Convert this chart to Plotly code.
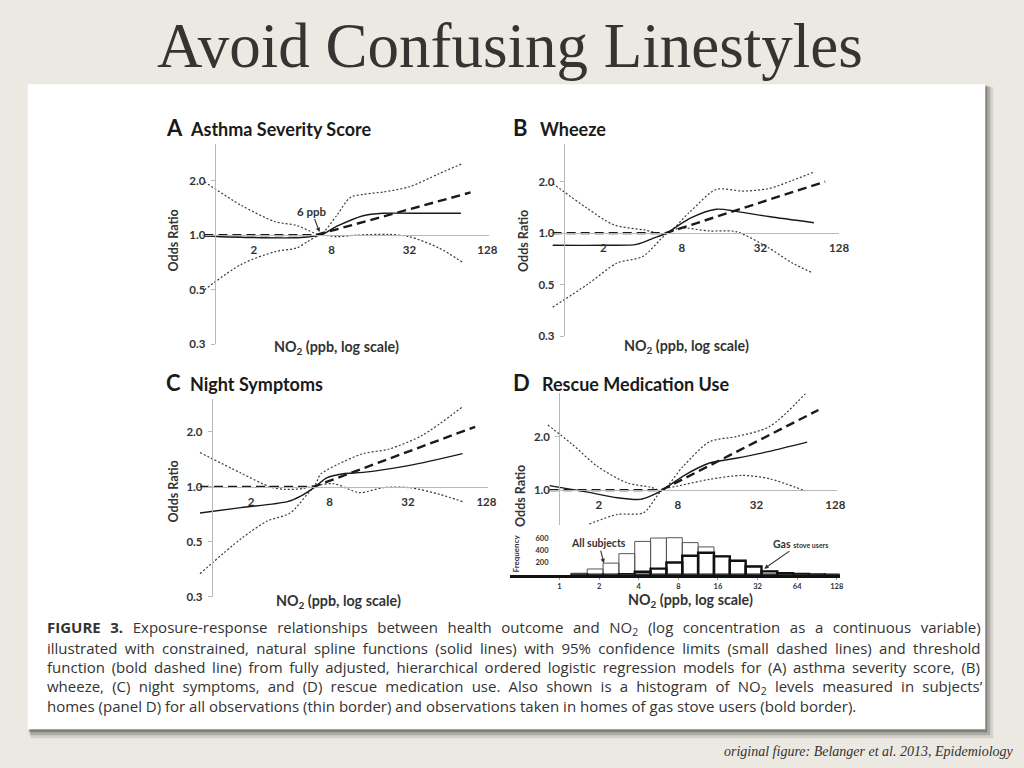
import math
import plotly.graph_objects as go

W, H = 1024, 768

# ---------------- data ----------------
x_tick_vals = [2, 8, 32, 128]
x_tick_text = ["2", "8", "32", "128"]
or_tick_vals = [0.25, 0.5, 1.0, 2.0]
or_tick_text = ["0.3", "0.5", "1.0", "2.0"]
or_tick_vals_D = [1.0, 2.0]
or_tick_text_D = ["1.0", "2.0"]

# Panel A: Asthma Severity Score
A_solid_x = [0.83, 2.0, 4.6, 6.5, 8.8, 14, 20, 40, 80]
A_solid_y = [0.99, 0.97, 0.97, 1.0, 1.12, 1.28, 1.32, 1.32, 1.32]
A_thr_x = [0.83, 6.0, 95]
A_thr_y = [1.0, 1.0, 1.72]
A_up_x = [0.83, 1.6, 2.9, 4.3, 5.8, 6.5, 8.8, 11.1, 14, 20, 32, 54, 82]
A_up_y = [1.97, 1.46, 1.19, 1.13, 1.03, 1.0, 1.29, 1.61, 1.68, 1.73, 1.85, 2.18, 2.48]
A_lo_x = [0.83, 1.6, 2.9, 4.3, 5.2, 6.5, 8.8, 12.5, 22, 32, 54, 82]
A_lo_y = [0.50, 0.69, 0.81, 0.85, 0.92, 1.0, 0.98, 1.0, 1.01, 0.98, 0.85, 0.71]

# Panel B: Wheeze
B_solid_x = [0.82, 2.0, 3.6, 4.85, 6.1, 9.2, 14.7, 20.8, 37, 82]
B_solid_y = [0.85, 0.85, 0.86, 0.935, 1.0, 1.22, 1.38, 1.34, 1.25, 1.15]
B_thr_x = [0.82, 6.0, 100]
B_thr_y = [1.0, 1.0, 2.0]
B_up_x = [0.82, 1.5, 2.4, 4.1, 6.1, 9.2, 14.7, 23.4, 37, 56, 82]
B_up_y = [1.95, 1.40, 1.12, 1.045, 1.0, 1.33, 1.80, 1.76, 1.82, 2.03, 2.27]
B_lo_x = [0.82, 1.5, 2.56, 4.0, 6.1, 7.7, 13, 20.8, 37, 56, 79]
B_lo_y = [0.37, 0.50, 0.67, 0.73, 0.99, 1.07, 1.03, 1.02, 0.82, 0.67, 0.59]

# Panel C: Night Symptoms
C_solid_x = [0.81, 1.67, 3.8, 4.8, 6.2, 7.6, 10.2, 14.5, 33, 84]
C_solid_y = [0.72, 0.77, 0.83, 0.89, 1.0, 1.12, 1.18, 1.20, 1.31, 1.52]
C_thr_x = [0.81, 6.0, 105]
C_thr_y = [1.0, 1.0, 2.13]
C_up_x = [0.81, 1.67, 2.8, 3.6, 5.0, 6.2, 6.8, 9.1, 14.5, 23, 41.5, 84]
C_up_y = [1.54, 1.19, 1.0, 0.97, 0.98, 1.03, 1.17, 1.32, 1.52, 1.61, 1.92, 2.74]
C_lo_x = [0.81, 1.67, 2.66, 4.0, 6.2, 8.6, 13.6, 20.6, 33, 56, 84]
C_lo_y = [0.335, 0.52, 0.65, 0.72, 1.0, 1.04, 0.93, 0.99, 0.99, 0.91, 0.83]

# Panel D: Rescue Medication Use
D_solid_x = [0.84, 1.64, 2.76, 4.15, 4.94, 6.1, 8.8, 14, 22.3, 40, 78]
D_solid_y = [1.06, 0.975, 0.906, 0.887, 0.925, 1.0, 1.2, 1.42, 1.51, 1.65, 1.86]
D_thr_x = [0.84, 6.0, 95]
D_thr_y = [1.0, 1.0, 2.82]
D_up_x = [0.815, 1.23, 1.95, 3.28, 4.94, 6.1, 8.8, 14, 22.3, 40, 75.5]
D_up_y = [2.32, 1.83, 1.36, 1.10, 1.04, 1.0, 1.36, 1.87, 2.0, 2.27, 3.48]
D_lo_x = [1.69, 2.76, 4.39, 6.1, 8.3, 14, 25, 40, 75.5]
D_lo_y = [0.645, 0.73, 0.747, 1.0, 1.06, 1.15, 1.21, 1.16, 0.99]

# Histogram of NO2 (bins on log2 scale, left edges, width 0.4)
hist_left_log2 = [0.3, 0.7, 1.1, 1.5, 1.9, 2.3, 2.7, 3.1, 3.5, 3.9, 4.3, 4.7, 5.1, 5.5, 5.9, 6.3, 6.7]
hist_all = [25, 95, 190, 345, 545, 600, 605, 525, 455, 305, 235, 140, 60, 25, 12, 5, 3]
hist_gas = [2, 2, 3, 8, 50, 100, 200, 310, 360, 300, 230, 135, 55, 25, 12, 5, 3]
hist_x_tick_vals = [0, 1, 2, 3, 4, 5, 6, 7]
hist_x_tick_text = ["1", "2", "4", "8", "16", "32", "64", "128"]
hist_y_tick_vals = [200, 400, 600]

caption_lines = [
    "<b>FIGURE 3.</b> Exposure-response relationships between health outcome and NO<sub>2</sub> (log concentration as a continuous variable)",
    "illustrated with constrained, natural spline functions (solid lines) with 95% confidence limits (small dashed lines) and threshold",
    "function (bold dashed line) from fully adjusted, hierarchical ordered logistic regression models for (A) asthma severity score, (B)",
    "wheeze, (C) night symptoms, and (D) rescue medication use. Also shown is a histogram of NO<sub>2</sub> levels measured in subjects\u2019",
    "homes (panel D) for all observations (thin border) and observations taken in homes of gas stove users (bold border).",
]
caption_word_spacing = [5.7, 3.45, 2.8, 4.3, 0]

# ---------------- geometry helpers ----------------
def fx(px):
    return px / W

def fy(py):
    return 1 - py / H

FIG_FONT = "Lato"
AX_COL = "#b8b8b8"
TXT_COL = "#2b2b2b"
BG = "#ece9e2"

panels = [
    dict(name="A", title="Asthma Severity Score", x1=217, dx=39.3, y1=237, dy=55, xmin=0.8, xmax=131, ymin=0.25, ymax=3.2,
         data=(A_solid_x, A_solid_y, A_thr_x, A_thr_y, A_up_x, A_up_y, A_lo_x, A_lo_y),
         yt=(or_tick_vals, or_tick_text), letter_xy=(166, 129), title_x=190,
         ylab_xy=(175, 242), xlab_xy=(340, 350)),
    dict(name="B", title="Wheeze", x1=569.5, dx=39.7, y1=235, dy=52, xmin=0.8, xmax=128, ymin=0.25, ymax=3.3,
         data=(B_solid_x, B_solid_y, B_thr_x, B_thr_y, B_up_x, B_up_y, B_lo_x, B_lo_y),
         yt=(or_tick_vals, or_tick_text), letter_xy=(516, 129), title_x=543,
         ylab_xy=(528, 243), xlab_xy=(693, 349)),
    dict(name="C", title="Night Symptoms", x1=214, dx=39.6, y1=490.7, dy=55.5, xmin=0.78, xmax=132, ymin=0.25, ymax=3.04,
         data=(C_solid_x, C_solid_y, C_thr_x, C_thr_y, C_up_x, C_up_y, C_lo_x, C_lo_y),
         yt=(or_tick_vals, or_tick_text), letter_xy=(166, 386), title_x=190,
         ylab_xy=(175, 495), xlab_xy=(342, 606)),
    dict(name="D", title="Rescue Medication Use", x1=565, dx=39.8, y1=494, dy=54, xmin=0.8, xmax=131, ymin=0.64, ymax=3.5,
         data=(D_solid_x, D_solid_y, D_thr_x, D_thr_y, D_up_x, D_up_y, D_lo_x, D_lo_y),
         yt=(or_tick_vals_D, or_tick_text_D), letter_xy=(516, 386), title_x=545,
         ylab_xy=(525, 500), xlab_xy=(697, 605)),
]

fig = go.Figure()
layout = dict(
    width=W, height=H,
    margin=dict(l=0, r=0, t=0, b=0),
    paper_bgcolor=BG,
    plot_bgcolor="rgba(0,0,0,0)",
    showlegend=False,
    barmode="overlay",
    font=dict(family=FIG_FONT, color=TXT_COL),
)
annotations = []
shapes = [
    # card shadow layers
    dict(type="rect", xref="paper", yref="paper", x0=fx(31), x1=fx(1003), y0=fy(744), y1=fy(88),
         fillcolor="rgba(0,0,0,0.10)", line=dict(width=0), layer="below"),
    dict(type="rect", xref="paper", yref="paper", x0=fx(30), x1=fx(1000), y0=fy(741), y1=fy(87),
         fillcolor="rgba(0,0,0,0.18)", line=dict(width=0), layer="below"),
    dict(type="rect", xref="paper", yref="paper", x0=fx(29), x1=fx(997), y0=fy(738), y1=fy(86),
         fillcolor="rgba(0,0,0,0.25)", line=dict(width=0), layer="below"),
    dict(type="rect", xref="paper", yref="paper", x0=fx(28), x1=fx(995), y0=fy(735), y1=fy(85),
         fillcolor="#ffffff", line=dict(width=0), layer="below"),
]

for i, p in enumerate(panels, start=1):
    xa = "x" if i == 1 else f"x{i}"
    ya = "y" if i == 1 else f"y{i}"
    xkey = "xaxis" if i == 1 else f"xaxis{i}"
    ykey = "yaxis" if i == 1 else f"yaxis{i}"
    l = math.log2
    xd = [fx(p["x1"] + p["dx"] * l(p["xmin"])), fx(p["x1"] + p["dx"] * l(p["xmax"]))]
    yd = [fy(p["y1"] - p["dy"] * l(p["ymin"])), fy(p["y1"] - p["dy"] * l(p["ymax"]))]
    layout[xkey] = dict(
        type="log", range=[math.log10(p["xmin"]), math.log10(p["xmax"])], domain=xd,
        anchor="free", position=fy(p["y1"]), tickvals=x_tick_vals, ticktext=x_tick_text,
        showline=True, linecolor=AX_COL, linewidth=1.3, ticks="", showgrid=False, zeroline=False,
        ticklabelstandoff=4,
        tickfont=dict(family=FIG_FONT, size=11.5, color="#333", weight="bold"),
    )
    layout[ykey] = dict(
        type="log", range=[math.log10(p["ymin"]), math.log10(p["ymax"])], domain=yd,
        anchor="free", position=fx(p["x1"]), tickvals=p["yt"][0], ticktext=p["yt"][1],
        showline=True, linecolor=AX_COL, linewidth=1.3, ticks="outside", ticklen=4, tickcolor=AX_COL,
        showgrid=False, zeroline=False, ticklabelstandoff=3,
        tickfont=dict(family=FIG_FONT, size=11.5, color="#333", weight="bold"),
    )
    sx, sy, tx, ty, ux, uy, lx, ly = p["data"]
    fig.add_trace(go.Scatter(x=ux, y=uy, mode="lines", xaxis=xa, yaxis=ya,
                             line=dict(color="#3a3a3a", width=1.2, dash="2px,2px", shape="spline", smoothing=0.8)))
    fig.add_trace(go.Scatter(x=lx, y=ly, mode="lines", xaxis=xa, yaxis=ya,
                             line=dict(color="#3a3a3a", width=1.2, dash="2px,2px", shape="spline", smoothing=0.8)))
    fig.add_trace(go.Scatter(x=sx, y=sy, mode="lines", xaxis=xa, yaxis=ya,
                             line=dict(color="#1a1a1a", width=1.4, shape="spline", smoothing=0.8)))
    fig.add_trace(go.Scatter(x=tx, y=ty, mode="lines", xaxis=xa, yaxis=ya,
                             line=dict(color="#1a1a1a", width=2.4, dash="9px,5px")))
    # panel letter and title
    lxp, lyp = p["letter_xy"]
    annotations.append(dict(xref="paper", yref="paper", x=fx(lxp), y=fy(lyp), xanchor="left", yanchor="middle",
                            text=f"<b>{p['name']}</b>", showarrow=False,
                            font=dict(family=FIG_FONT, size=22, color="#1a1a1a")))
    annotations.append(dict(xref="paper", yref="paper", x=fx(p["title_x"]), y=fy(lyp + 1), xanchor="left", yanchor="middle",
                            text=f"<b>{p['title']}</b>", showarrow=False,
                            font=dict(family=FIG_FONT, size=18, color="#1a1a1a")))
    # axis titles
    yx, yy = p["ylab_xy"]
    annotations.append(dict(xref="paper", yref="paper", x=fx(yx), y=fy(yy), xanchor="center", yanchor="middle",
                            text="<b>Odds Ratio</b>", textangle=-90, showarrow=False,
                            font=dict(family=FIG_FONT, size=12.5, color="#333")))
    xx, xy = p["xlab_xy"]
    annotations.append(dict(xref="paper", yref="paper", x=fx(xx), y=fy(xy), xanchor="center", yanchor="middle",
                            text="<b>NO<sub>2</sub> (ppb, log scale)</b>", showarrow=False,
                            font=dict(family=FIG_FONT, size=14.3, color="#333")))

# "6 ppb" threshold label in panel A
annotations.append(dict(xref="x", yref="y", x=math.log10(6.45), y=math.log10(1.04), ax=-8, ay=-21,
                        text="<b>6 ppb</b>", showarrow=True, arrowhead=2, arrowsize=0.8, arrowwidth=1.1,
                        arrowcolor="#333", font=dict(family=FIG_FONT, size=11.5, color="#333")))

# ---------------- histogram (panel D, bottom) ----------------
hx0, hx1 = 515, 848
h_one = 565
h_dpx = 40
h_base = 579.3
h_ymax = 680
layout["xaxis5"] = dict(
    range=[(hx0 - h_one) / h_dpx, (hx1 - h_one) / h_dpx], domain=[fx(hx0), fx(hx1)], anchor="y5",
    tickvals=hist_x_tick_vals, ticktext=hist_x_tick_text, showline=True, linecolor="#111", linewidth=2.5,
    ticks="outside", ticklen=2, tickcolor="#999", showgrid=False, zeroline=False, ticklabelstandoff=0,
    tickfont=dict(family=FIG_FONT, size=7.5, color="#333", weight="bold"),
)
layout["yaxis5"] = dict(
    range=[0, h_ymax], domain=[fy(h_base), fy(h_base - h_ymax / 16.2)], anchor="free", position=fx(556),
    tickvals=hist_y_tick_vals, showline=False, ticks="", showgrid=False, zeroline=False, ticklabelstandoff=2,
    tickfont=dict(family=FIG_FONT, size=7.5, color="#333", weight="bold"),
)
fig.add_trace(go.Bar(x=hist_left_log2, y=hist_all, width=0.4, offset=0, xaxis="x5", yaxis="y5",
                     marker=dict(color="rgba(255,255,255,0)", line=dict(color="#555", width=1))))
fig.add_trace(go.Bar(x=hist_left_log2, y=hist_gas, width=0.4, offset=0, xaxis="x5", yaxis="y5",
                     marker=dict(color="rgba(255,255,255,0)", line=dict(color="#111", width=2.4))))
annotations.append(dict(xref="paper", yref="paper", x=fx(521), y=fy(558), xanchor="center", yanchor="middle",
                        text="<b>Frequency</b>", textangle=-90,
                        showarrow=False, font=dict(family=FIG_FONT, size=8, color="#333")))
annotations.append(dict(xref="x5", yref="y5", x=1.12, y=190, ax=-5, ay=-20, text="<b>All subjects</b>",
                        showarrow=True, arrowhead=2, arrowsize=0.8, arrowwidth=1.1, arrowcolor="#333",
                        font=dict(family=FIG_FONT, size=10.5, color="#333")))
annotations.append(dict(xref="x5", yref="y5", x=5.17, y=100, ax=36, ay=-25,
                        text="<b>Gas</b> <b><span style='font-size:7px'>stove users</span></b>",
                        showarrow=True, arrowhead=2, arrowsize=0.8, arrowwidth=1.1, arrowcolor="#333",
                        font=dict(family=FIG_FONT, size=10.5, color="#333")))

# ---------------- caption, title, footer ----------------
cap_y = [633, 653, 672.5, 692, 711.5]
for line, yy, ws in zip(caption_lines, cap_y, caption_word_spacing):
    txt = f"<span style='word-spacing:{ws}px'>{line}</span>" if ws else line
    annotations.append(dict(xref="paper", yref="paper", x=fx(45), y=fy(yy), xanchor="left", yanchor="middle",
                            text=txt, showarrow=False,
                            font=dict(family="Open Sans", size=15, color="#333")))

annotations.append(dict(xref="paper", yref="paper", x=fx(515), y=fy(46), xanchor="center", yanchor="middle",
                        text="Avoid Confusing Linestyles", showarrow=False,
                        font=dict(family="Liberation Serif", size=63, color="#363432")))
annotations.append(dict(xref="paper", yref="paper", x=fx(1026), y=fy(757), xanchor="right", yanchor="middle",
                        text="<i>original figure: Belanger et al. 2013, Epidemiology</i>", showarrow=False,
                        font=dict(family="Liberation Serif", size=14, color="#333")))

layout["annotations"] = annotations
layout["shapes"] = shapes
fig.update_layout(**layout)
fig.write_html(
    "out.html",
    config={"displayModeBar": False},
    post_script="document.body.style.margin='0';document.body.style.background='%s';"
                "document.body.style.overflow='hidden';" % BG,
)
